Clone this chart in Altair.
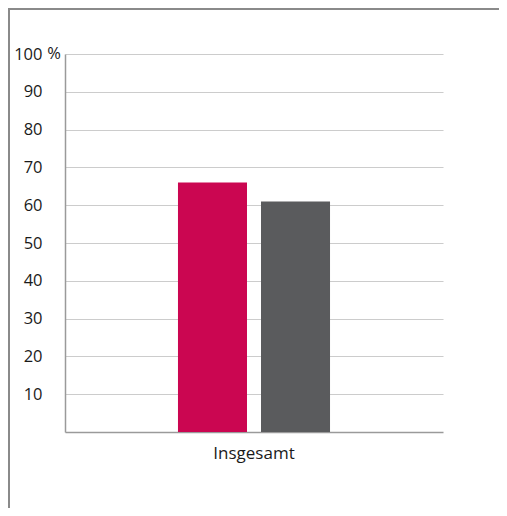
import altair as alt
import pandas as pd

categories = ["Insgesamt", "Insgesamt"]
series = ["Serie 1", "Serie 2"]
values = [66, 61]
colors = ["#CB0651", "#5A5B5D"]
y_ticks = [10, 20, 30, 40, 50, 60, 70, 80, 90, 100]

df = pd.DataFrame({"kategorie": categories, "serie": series, "wert": values})

FONT = "Open Sans"

bars = alt.Chart(df).mark_bar().encode(
    x=alt.X("kategorie:N", title=None,
            scale=alt.Scale(paddingInner=0, paddingOuter=0.743),
            axis=alt.Axis(labelAngle=0, ticks=False, labelPadding=13,
                          labelFontSize=17, labelFont=FONT, labelColor="#1a1a1a",
                          domainColor="#9a9a9a", domainWidth=1.5, grid=False)),
    xOffset=alt.XOffset("serie:N", scale=alt.Scale(paddingInner=0.1687, paddingOuter=0)),
    y=alt.Y("wert:Q", title=None,
            scale=alt.Scale(domain=[0, 100], nice=False),
            axis=alt.Axis(values=y_ticks, ticks=False, labelPadding=23,
                          labelFontSize=16.5, labelFont=FONT, labelColor="#1a1a1a",
                          domainColor="#9a9a9a", domainWidth=1.5,
                          gridColor="#cccccc", gridWidth=1.2)),
    color=alt.Color("serie:N", scale=alt.Scale(domain=series, range=colors), legend=None),
)

pct = alt.Chart(pd.DataFrame({"t": ["%"]})).mark_text(
    align="right", baseline="middle", fontSize=16.5, font=FONT, color="#1a1a1a"
).encode(text="t:N", y=alt.datum(100), x=alt.value(-4))

frame = alt.Chart(pd.DataFrame({"a": [0]})).mark_rect(
    fillOpacity=0, stroke="#8a8a8a", strokeWidth=2
).encode(x=alt.value(-56), y=alt.value(-45), x2=alt.value(700), y2=alt.value(700))

chart = alt.layer(frame, bars, pct).properties(
    width=378, height=378,
    autosize=alt.AutoSizeParams(type="none"),
    padding={"left": 57, "top": 46, "right": 56, "bottom": 76},
).configure_view(stroke=None)

chart.save("out.html", embed_options={"renderer": "svg", "actions": False})
